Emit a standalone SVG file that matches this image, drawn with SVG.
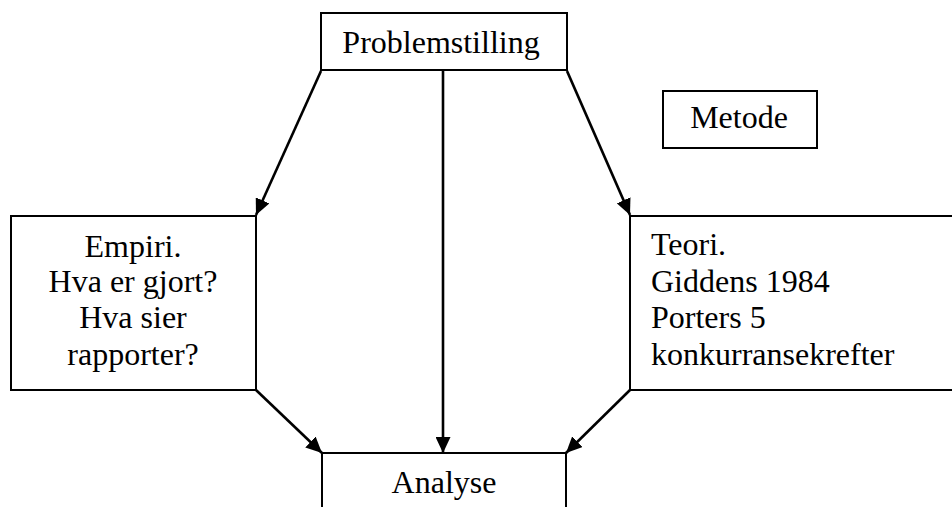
<svg xmlns="http://www.w3.org/2000/svg" width="952" height="507" viewBox="0 0 952 507">
<style>
.box{fill:#fff;stroke:#000;stroke-width:2}
text{font-family:'Liberation Serif','DejaVu Serif',serif;font-size:32px;fill:#000}
.c{text-anchor:middle}
.con{stroke:#000;stroke-width:2.6;fill:none;marker-end:url(#ah)}
</style>
<defs>
<marker id="ah" markerUnits="userSpaceOnUse" markerWidth="17" markerHeight="15" refX="16" refY="7.5" orient="auto">
<path d="M0,0 L16,7.5 L0,15 z" fill="#000"/>
</marker>
</defs>
<rect width="952" height="507" fill="#fff"/>
<g id="connectors">
<line class="con" x1="321" y1="71" x2="256" y2="215"/>
<line class="con" x1="567" y1="71" x2="630" y2="215"/>
<line class="con" x1="443" y1="71" x2="443" y2="453"/>
<line class="con" x1="256" y1="390" x2="322" y2="453"/>
<line class="con" x1="630" y1="390" x2="566" y2="453"/>
</g>
<g id="problemstilling">
<rect class="box" x="321" y="13" width="246" height="57"/>
<text class="c" x="441" y="53">Problemstilling</text>
</g>
<g id="metode">
<rect class="box" x="663" y="91" width="154" height="57"/>
<text class="c" x="739" y="128">Metode</text>
</g>
<g id="empiri">
<rect class="box" x="11" y="216" width="245" height="174"/>
<text class="c" x="133" y="257">Empiri.</text>
<text class="c" x="133" y="292">Hva er gjort?</text>
<text class="c" x="133" y="328">Hva sier</text>
<text class="c" x="133" y="365">rapporter?</text>
</g>
<g id="teori">
<rect class="box" x="630" y="216" width="340" height="174"/>
<text x="651" y="255">Teori.</text>
<text x="651" y="292">Giddens 1984</text>
<text x="651" y="328">Porters 5</text>
<text x="651" y="365">konkurransekrefter</text>
</g>
<g id="analyse">
<rect class="box" x="322" y="453" width="244" height="70"/>
<text class="c" x="444" y="493">Analyse</text>
</g>
</svg>
